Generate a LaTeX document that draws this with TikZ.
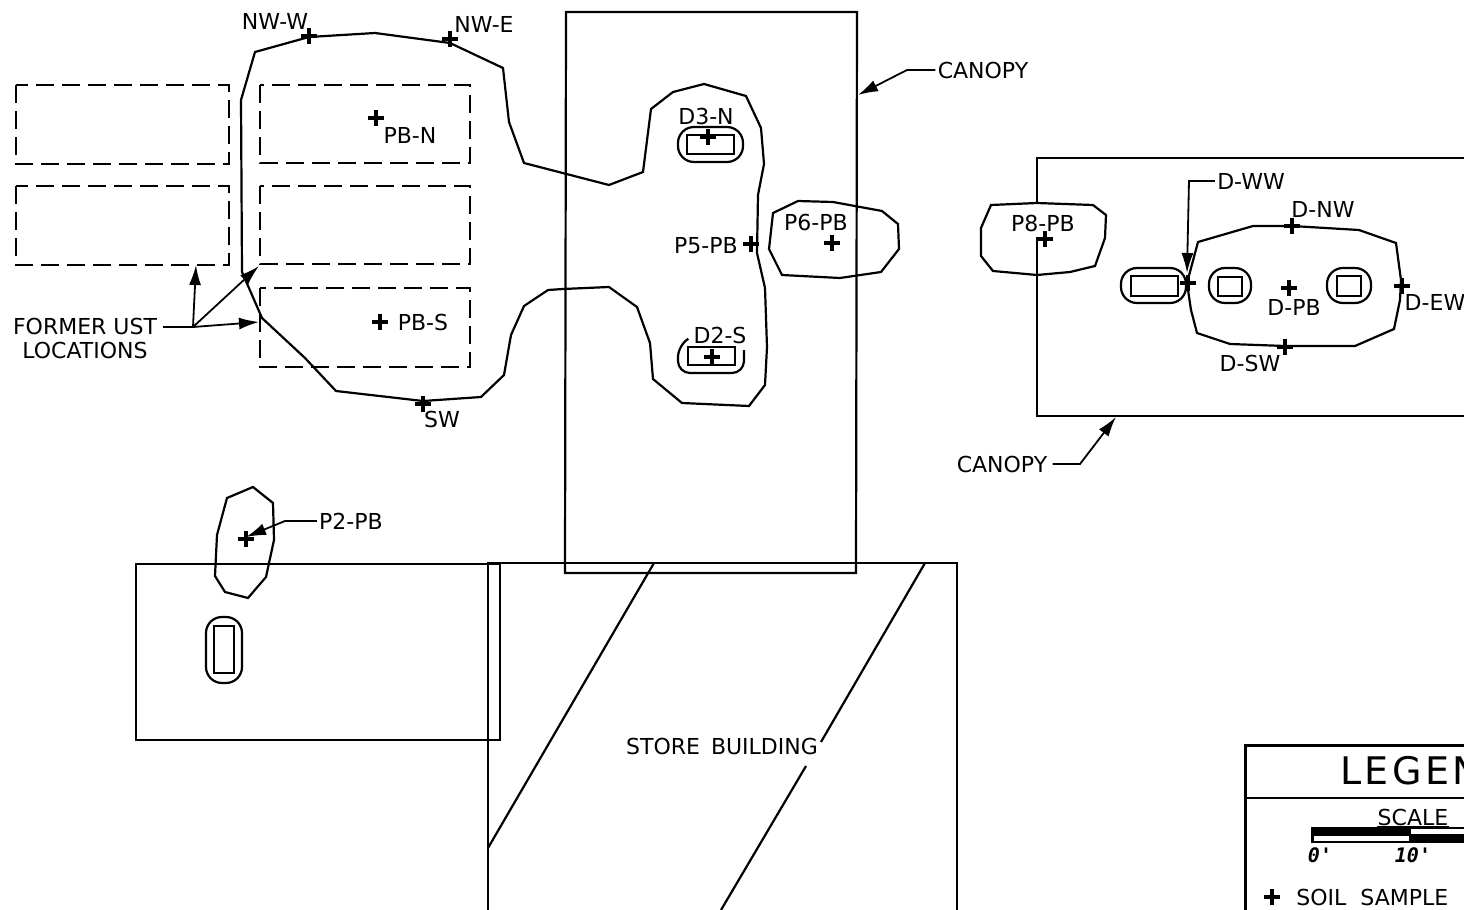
\documentclass[tikz,border=0pt]{standalone}
\usepackage{fontspec}
\setmainfont{DejaVu Sans}
\newfontfamily\scalefont[BoldItalicFont={DejaVu Sans Mono Bold Oblique}]{DejaVu Sans Mono}
\usetikzlibrary{arrows.meta}
\tikzset{
  x=0.5pt,y=-0.5pt,
  cad/.style={line width=1.1pt,line join=miter,black},
  dash box/.style={line width=1pt,dash pattern=on 9pt off 4pt,black},
  leader/.style={line width=0.9pt,black,-{Latex[length=10pt,width=6pt]}},
  plain leader/.style={line width=0.9pt,black},
  plusline/.style={line width=2pt,black},
  lbl/.style={inner sep=0pt,font=\fontsize{11}{13}\selectfont,text=black},
}
\newcommand{\plusmark}[3]{\coordinate (#1) at (#2,#3); \draw[plusline] (#1) +(-8,0) -- +(8,0) (#1) +(0,-8) -- +(0,8);}
\begin{document}
\begin{tikzpicture}
\useasboundingbox (0,0) rectangle (1464,910);
\fill[white] (0,0) rectangle (1464,910);
% former UST locations
\draw[dash box] (16,85) rectangle (229,164);
\draw[dash box] (16,186) rectangle (229,265);
\draw[dash box] (260,85) rectangle (470,163);
\draw[dash box] (260,186) rectangle (470,264);
\draw[dash box] (260,288) rectangle (470,367);
% canopy 1
\draw[cad] (566,12) -- (857,12) -- (856,573) -- (565,573) -- cycle;
% main excavation outline
\draw[cad] (255,52) -- (309,37) -- (375,33) -- (450,43) -- (503,68) -- (509,122) -- (524,163) -- (609,185) -- (643,172) -- (651,109) -- (673,92) -- (704,84) -- (746,96) -- (761,128) -- (764,164) -- (758,195) -- (757,253) -- (765,288) -- (767,347) -- (765,385) -- (749,406) -- (682,403) -- (653,379) -- (650,343) -- (637,307) -- (609,287) -- (563,289) -- (548,290) -- (524,306) -- (511,335) -- (504,375) -- (481,397) -- (423,401) -- (336,391) -- (305,358) -- (262,318) -- (242,272) -- (241,100) -- cycle;
% dispenser islands, canopy 1
\draw[cad,rounded corners=8pt] (678,127) rectangle (743,162);
\draw[cad] (687,135) rectangle (734,154);
\draw[cad] (688,347) rectangle (735,365);
\draw[cad,rounded corners=6pt] (688,339) -- (678,345) -- (678,373) -- (744,373) -- (744,350);
% P6 outline
\draw[cad] (773,213) -- (798,201) -- (833,202) -- (882,211) -- (898,224) -- (899,249) -- (881,272) -- (840,278) -- (782,275) -- (769,249) -- cycle;
% canopy 2
\draw[cad] (1037,203) -- (1037,158) -- (1464,158);
\draw[cad] (1037,237) -- (1037,416) -- (1464,416);
% P8 outline
\draw[cad] (991,205) -- (1037,203) -- (1093,205) -- (1106,215) -- (1105,238) -- (1095,266) -- (1070,272) -- (1037,275) -- (993,271) -- (981,256) -- (981,228) -- cycle;
% D outline
\draw[cad] (1198,242) -- (1253,226) -- (1292,226) -- (1359,230) -- (1396,243) -- (1401,280) -- (1400,300) -- (1394,329) -- (1355,346) -- (1285,346) -- (1230,344) -- (1197,333) -- (1191,310) -- (1187,283) -- cycle;
\draw[cad,rounded corners=8pt] (1121,268) rectangle (1186,303);
\draw[cad] (1131,276) rectangle (1178,296);
\draw[cad,rounded corners=8pt] (1209,268) rectangle (1251,303);
\draw[cad] (1218,277) rectangle (1242,296);
\draw[cad,rounded corners=8pt] (1327,268) rectangle (1371,303);
\draw[cad] (1337,276) rectangle (1361,296);
% store and P2 area
\draw[cad] (136,564) -- (500,564) -- (500,740) -- (136,740) -- cycle;
\draw[cad] (488,910) -- (488,563) -- (957,563) -- (957,910);
\draw[cad] (654,563) -- (488,848);
\draw[cad] (925,563) -- (821,742);
\draw[cad] (806,766) -- (721,910);
\draw[cad] (227,498) -- (253,487) -- (273,503) -- (274,540) -- (266,577) -- (248,598) -- (225,592) -- (215,576) -- (217,535) -- cycle;
\draw[cad,rounded corners=8pt] (206,617) rectangle (242,683);
\draw[cad] (214,626) rectangle (234,673);
% legend
\draw[line width=1.5pt,black] (1464,745) -- (1245,745) -- (1245,910);
\draw[line width=1.2pt,black] (1245,798) -- (1464,798);
\fill[black] (1311,827) rectangle (1464,843);
\fill[white] (1314,836) rectangle (1409,841);
\fill[white] (1411,829) rectangle (1464,834);
% sample marks
\plusmark{pNWW}{309}{36}
\plusmark{pNWE}{450}{39}
\plusmark{pPBN}{376}{118}
\plusmark{pPBS}{380}{322}
\plusmark{pSW}{423}{404}
\plusmark{pD3}{708}{137}
\plusmark{pD2}{712}{357}
\plusmark{pP5}{751}{244}
\plusmark{pP6}{832}{243}
\plusmark{pP8}{1045}{239}
\plusmark{pDWW}{1188}{283}
\plusmark{pDNW}{1292}{226}
\plusmark{pDPB}{1289}{288}
\plusmark{pDEW}{1402}{286}
\plusmark{pDSW}{1285}{347}
\plusmark{pP2}{246}{539}
\plusmark{pLeg}{1272}{897}
% labels
\node[lbl] (nww) at (275,21) {NW-W};
\node[lbl] (nwe) at (484,24) {NW-E};
\node[lbl] (pbn) at (410,135) {PB-N};
\node[lbl] (pbs) at (423,322) {PB-S};
\node[lbl] (sw) at (442,419) {SW};
\node[lbl,align=center] (ust) at (85,338) {FORMER UST\\[-1pt]LOCATIONS};
\node[lbl] (can1) at (983,70) {CANOPY};
\node[lbl] (d3) at (706,116) {D3-N};
\node[lbl] (p5) at (706,246) {P5-PB};
\node[lbl] (p6) at (816,222) {P6-PB};
\node[lbl] (d2) at (720,335) {D2-S};
\node[lbl] (p8) at (1043,223) {P8-PB};
\node[lbl] (dww) at (1251,181) {D-WW};
\node[lbl] (dnw) at (1323,209) {D-NW};
\node[lbl] (dpb) at (1294,307) {D-PB};
\node[lbl] (dew) at (1435,302) {D-EW};
\node[lbl] (dsw) at (1250,363) {D-SW};
\node[lbl] (can2) at (1002,464) {CANOPY};
\node[lbl] (p2) at (351,521) {P2-PB};
\node[lbl] (store) at (722,746) {STORE\hspace{2pt} BUILDING};
\node[lbl,anchor=west,font=\fontsize{19}{22}\selectfont\addfontfeature{LetterSpace=9}] (leg) at (1340,771) {LEGEND};
\node[lbl] (scale) at (1413,817) {SCALE};
\draw[plain leader] (1377,827) -- (1449,827);
\node[lbl,font=\scalefont\bfseries\itshape\fontsize{10}{12}\selectfont] (z0) at (1320,855) {0'};
\node[lbl,font=\scalefont\bfseries\itshape\fontsize{10}{12}\selectfont] (z10) at (1413,855) {10'};
\node[lbl,anchor=west] (soil) at (1296,897) {SOIL\hspace{3.5pt} SAMPLE};
% leaders
\coordinate (ustJ) at (193,327);
\coordinate (ustA) at (196,265);
\coordinate (ustB) at (259,266);
\coordinate (ustC) at (259,322);
\draw[plain leader] (163,327) -- (ustJ);
\draw[leader] (ustJ) -- (ustA);
\draw[leader] (ustJ) -- (ustB);
\draw[leader] (ustJ) -- (ustC);
\coordinate (c1a) at (907,70);
\coordinate (c1b) at (858,95);
\draw[leader] (can1.west) ++(-2,0) -- (c1a) -- (c1b);
\coordinate (c2a) at (1080,464);
\coordinate (c2b) at (1116,417);
\draw[leader] (can2.east) ++(5,0) -- (c2a) -- (c2b);
\coordinate (dwa) at (1189,181);
\coordinate (dwb) at (1187,273);
\draw[leader] (dww.west) ++(-2,0) -- (dwa) -- (dwb);
\coordinate (p2a) at (285,521);
\coordinate (p2b) at (246,537);
\draw[leader] (p2.west) ++(-2,0) -- (p2a) -- (p2b);
\end{tikzpicture}
\end{document}
